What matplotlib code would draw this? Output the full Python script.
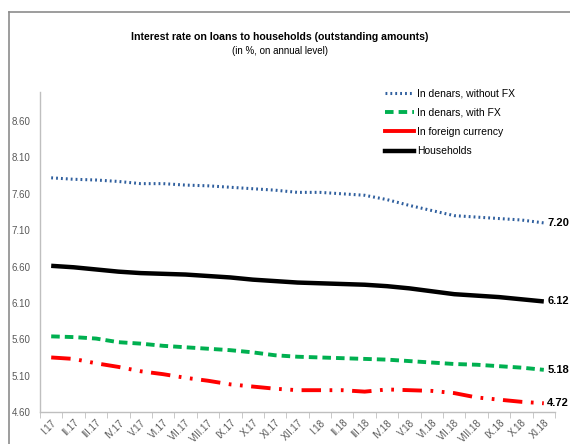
import matplotlib
matplotlib.use("Agg")
import matplotlib.pyplot as plt
from matplotlib.lines import Line2D

plt.rcParams['font.family'] = ['Liberation Sans', 'DejaVu Sans']

categories = ["I.17", "II.17", "III.17", "IV.17", "V.17", "VI.17", "VII.17", "VIII.17",
              "IX.17", "X.17", "XI.17", "XII.17", "I.18", "II.18", "III.18", "IV.18",
              "V.18", "VI.18", "VII.18", "VIII.18", "IX.18", "X.18", "XI.18"]

without_fx = [7.82, 7.80, 7.79, 7.77, 7.74, 7.74, 7.72, 7.71, 7.69, 7.67, 7.65, 7.62,
              7.62, 7.60, 7.58, 7.52, 7.44, 7.37, 7.30, 7.28, 7.26, 7.24, 7.20]
with_fx = [5.64, 5.63, 5.61, 5.56, 5.54, 5.51, 5.49, 5.47, 5.45, 5.42, 5.38, 5.36,
           5.35, 5.34, 5.33, 5.32, 5.30, 5.28, 5.26, 5.25, 5.23, 5.21, 5.18]
foreign = [5.35, 5.33, 5.27, 5.22, 5.16, 5.12, 5.07, 5.03, 4.98, 4.95, 4.92, 4.90,
           4.90, 4.90, 4.88, 4.91, 4.90, 4.89, 4.86, 4.80, 4.77, 4.74, 4.72]
households = [6.61, 6.59, 6.56, 6.53, 6.51, 6.50, 6.49, 6.47, 6.45, 6.42, 6.40, 6.38,
              6.37, 6.36, 6.35, 6.33, 6.30, 6.26, 6.22, 6.20, 6.18, 6.15, 6.12]

yticks = [4.60, 5.10, 5.60, 6.10, 6.60, 7.10, 7.60, 8.10, 8.60]
series_names = ["In denars, without FX", "In denars, with FX", "In foreign currency", "Households"]

W, H = 570, 444
fig = plt.figure(figsize=(W / 100, H / 100), dpi=100)

# outer frame
fig.add_artist(Line2D([9 / W, 9 / W], [0, 1 - 12 / H], transform=fig.transFigure, color='#8c8c8c', lw=1.2))
fig.add_artist(Line2D([9 / W, 1], [1 - 12 / H, 1 - 12 / H], transform=fig.transFigure, color='#8c8c8c', lw=1.2))

ax = fig.add_axes([40 / W, 1 - 412 / H, (555 - 40) / W, (412 - 92) / H])
x = list(range(len(categories)))

blue = '#2F5F9E'
green = '#00B050'
red = '#FF0000'

ax.plot(x, without_fx, color=blue, lw=2.2, linestyle=(0, (0.6, 1.0)), dash_capstyle='butt')
ax.plot(x, with_fx, color=green, lw=2.8, linestyle=(0, (2.2, 1.3)))
ax.plot(x, foreign, color=red, lw=2.8, linestyle=(0, (5, 2.2, 0.7, 2.2, 0.7, 2.2)))
ax.plot(x, households, color='black', lw=3.2, solid_capstyle='butt')

ax.set_xlim(-0.5, len(categories) - 0.5)
ax.set_ylim(4.6, 9.0)

for s in ['top', 'right']:
    ax.spines[s].set_visible(False)
for s in ['left', 'bottom']:
    ax.spines[s].set_color('#BFBFBF')
    ax.spines[s].set_linewidth(1.0)

ax.set_yticks(yticks)
ax.set_yticklabels([f"{v:.2f}" for v in yticks], fontsize=7, color='#595959')
ax.tick_params(axis='y', length=0, pad=7)

ax.set_xticks(x)
ax.set_xticklabels(categories, rotation=45, ha='right', rotation_mode='anchor', fontsize=7, color='#595959')
ax.tick_params(axis='x', which='major', length=0, pad=4)
ax.set_xticks([i - 0.5 for i in range(len(categories) + 1)], minor=True)
ax.tick_params(axis='x', which='minor', length=4, color='#BFBFBF')

# end labels
for vals in [without_fx, households, with_fx, foreign]:
    ax.annotate(f"{vals[-1]:.2f}", xy=(x[-1], vals[-1]), xytext=(2.5, 0), textcoords='offset points',
                fontsize=8, fontweight='bold', va='center', ha='left', annotation_clip=False)

handles = [
    Line2D([], [], color=blue, lw=2.2, linestyle=(0, (0.6, 1.0))),
    Line2D([], [], color=green, lw=2.8, linestyle=(0, (2.2, 1.3))),
    Line2D([], [], color=red, lw=2.8),
    Line2D([], [], color='black', lw=3.2),
]
fig.legend(handles, series_names, loc='upper left', bbox_to_anchor=(381 / W, 1 - 84 / H),
           frameon=False, fontsize=7.5, handlelength=2.8, handletextpad=0.25, labelspacing=0.9,
           borderaxespad=0)

fig.text(280 / W, 1 - 37 / H, "Interest rate on loans to households (outstanding amounts)",
         ha='center', va='center', fontsize=7.6, fontweight='bold')
fig.text(280 / W, 1 - 51 / H, "(in %, on annual level)", ha='center', va='center', fontsize=7)

fig.savefig("out.png", dpi=100)
